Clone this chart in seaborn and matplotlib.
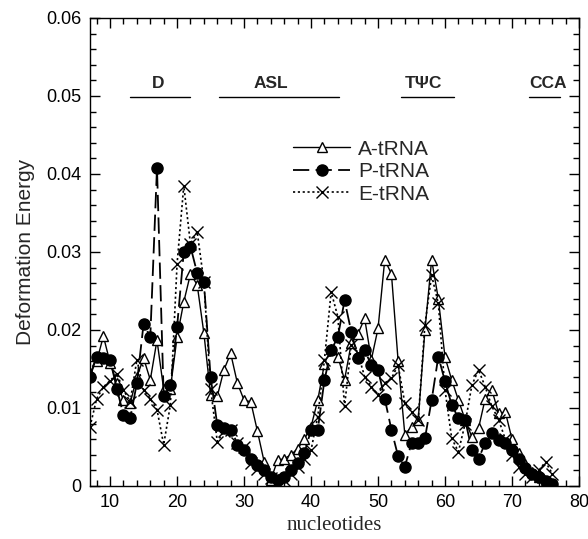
import numpy as np
import pandas as pd
import matplotlib
matplotlib.use("Agg")
import matplotlib.pyplot as plt
from matplotlib.ticker import MultipleLocator, FuncFormatter
import seaborn as sns

nucleotides = list(range(7, 77))

a_trna = [0.0145, 0.0160, 0.0192, 0.0158, 0.0132, 0.0110, 0.0106, 0.0140, 0.0164, 0.0136,
          0.0187, 0.0124, 0.0125, 0.0191, 0.0236, 0.0272, 0.0258, 0.0196, 0.0117, 0.0115,
          0.0149, 0.0170, 0.0132, 0.0110, 0.0108, 0.0070, 0.0031, 0.0008, 0.0033, 0.0035,
          0.0040, 0.0048, 0.0060, 0.0076, 0.0110, 0.0157, 0.0176, 0.0166, 0.0136, 0.0183,
          0.0195, 0.0215, 0.0162, 0.0202, 0.0290, 0.0272, 0.0160, 0.0066, 0.0076, 0.0085,
          0.0200, 0.0290, 0.0240, 0.0165, 0.0136, 0.0110, 0.0085, 0.0063, 0.0074, 0.0112,
          0.0123, 0.0093, 0.0095, 0.0060, 0.0042, 0.0028, 0.0018, 0.0012, 0.0006, 0.0003]

p_trna = [0.0140, 0.0166, 0.0164, 0.0162, 0.0125, 0.0091, 0.0087, 0.0132, 0.0208, 0.0191,
          0.0408, 0.0115, 0.0129, 0.0204, 0.0300, 0.0307, 0.0273, 0.0262, 0.0140, 0.0078,
          0.0074, 0.0072, 0.0053, 0.0046, 0.0035, 0.0027, 0.0020, 0.0012, 0.0008, 0.0012,
          0.0020, 0.0029, 0.0042, 0.0072, 0.0072, 0.0136, 0.0174, 0.0191, 0.0238, 0.0198,
          0.0164, 0.0174, 0.0155, 0.0149, 0.0112, 0.0072, 0.0038, 0.0025, 0.0055, 0.0055,
          0.0061, 0.0110, 0.0166, 0.0134, 0.0104, 0.0087, 0.0085, 0.0046, 0.0035, 0.0055,
          0.0068, 0.0059, 0.0055, 0.0046, 0.0035, 0.0023, 0.0016, 0.0012, 0.0006, 0.0003]

e_trna = [0.0076, 0.0112, 0.0127, 0.0135, 0.0144, 0.0123, 0.0108, 0.0162, 0.0123, 0.0112,
          0.0098, 0.0053, 0.0104, 0.0285, 0.0385, 0.0310, 0.0326, 0.0262, 0.0125, 0.0057,
          0.0070, 0.0072, 0.0055, 0.0050, 0.0030, 0.0022, 0.0015, 0.0010, 0.0003, 0.0008,
          0.0015, 0.0025, 0.0035, 0.0046, 0.0089, 0.0162, 0.0249, 0.0217, 0.0102, 0.0181,
          0.0170, 0.0140, 0.0127, 0.0117, 0.0132, 0.0138, 0.0155, 0.0106, 0.0095, 0.0085,
          0.0207, 0.0270, 0.0234, 0.0123, 0.0061, 0.0044, 0.0080, 0.0129, 0.0149, 0.0127,
          0.0102, 0.0085, 0.0060, 0.0040, 0.0025, 0.0015, 0.0012, 0.0020, 0.0031, 0.0016]

series_names = ["A-tRNA", "P-tRNA", "E-tRNA"]

region_labels = ["D", "ASL", "T\u03a8C", "CCA"]
region_start = [13.0, 26.2, 53.4, 72.5]
region_end = [22.0, 44.2, 61.3, 77.2]
region_center = [17.2, 34.0, 56.8, 75.3]

x_ticks = [10, 20, 30, 40, 50, 60, 70, 80]
y_ticks = [0, 0.01, 0.02, 0.03, 0.04, 0.05, 0.06]

sns.set_theme(style="ticks")
plt.rcParams["font.family"] = ["Liberation Sans", "DejaVu Sans"]

fig = plt.figure(figsize=(5.88, 5.39), dpi=100)
ax = fig.add_axes([90 / 588, 1 - 486 / 539, 489 / 588, 468 / 539])

sns.lineplot(x=nucleotides, y=a_trna, ax=ax, color="black", linewidth=1.0,
             linestyle="-", marker="^", markersize=7, mfc="white", mec="black",
             mew=1.0, label=series_names[0])
sns.lineplot(x=nucleotides, y=p_trna, ax=ax, color="black", linewidth=1.3,
             dashes=False, marker="o", markersize=8, mfc="black", mec="black",
             mew=1.0, label=series_names[1])
sns.lineplot(x=nucleotides, y=e_trna, ax=ax, color="black", linewidth=1.2,
             dashes=False, marker="x", markersize=9, mec="black", mew=1.0,
             label=series_names[2])

lines = ax.get_lines()
lines[1].set_linestyle((0, (9, 3.5)))
lines[2].set_linestyle((0, (1.3, 1.6)))

for lab, s, e, c in zip(region_labels, region_start, region_end, region_center):
    ax.plot([s, e], [0.0499, 0.0499], color="black", linewidth=1.0)
    ax.text(c, 0.0507, lab, ha="center", va="bottom", fontsize=12.5,
            fontweight="bold", family=["Liberation Sans", "DejaVu Sans"])

ax.set_xlim(7, 80)
ax.set_ylim(0, 0.06)
ax.set_xticks(x_ticks)
ax.set_yticks(y_ticks)
ax.xaxis.set_minor_locator(MultipleLocator(2))
ax.yaxis.set_minor_locator(MultipleLocator(0.002))
ax.yaxis.set_major_formatter(FuncFormatter(lambda v, p: "0" if abs(v) < 1e-12 else f"{v:.2f}"))
ax.tick_params(which="both", direction="in", top=True, right=True, labelsize=13,
               colors="black")
ax.tick_params(which="major", length=7, width=1.0, pad=6)
ax.tick_params(which="minor", length=4, width=1.0)
for sp in ax.spines.values():
    sp.set_visible(True)
    sp.set_color("black")
    sp.set_linewidth(1.0)

ax.set_xlabel("nucleotides", fontsize=15, family=["Liberation Serif", "DejaVu Serif"], labelpad=3)
ax.set_ylabel("Deformation Energy", fontsize=15, labelpad=8)

leg = ax.legend(loc="upper left", bbox_to_anchor=(0.407, 0.749), frameon=False,
                fontsize=15, handlelength=2.75, handletextpad=0.35, labelspacing=0.17,
                borderpad=0.2, borderaxespad=0.0, numpoints=1)

fig.savefig("out.png", dpi=100, facecolor="white")
